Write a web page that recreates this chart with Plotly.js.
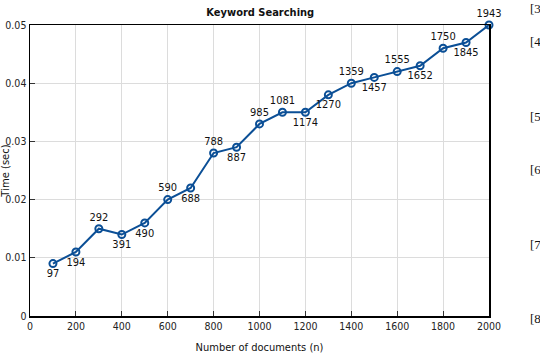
<!DOCTYPE html>
<html><head><meta charset="utf-8">
<script src="https://cdn.plot.ly/plotly-3.0.1.min.js"></script>
<style>html,body{margin:0;padding:0;background:#fff}#chart{width:540px;height:358px}</style>
</head><body><div id="chart"></div>
<script>
const docs = [100,200,300,400,500,600,700,800,900,1000,1100,1200,1300,1400,1500,1600,1700,1800,1900,2000];
const times = [0.009,0.011,0.015,0.014,0.016,0.020,0.022,0.028,0.029,0.033,0.035,0.035,0.038,0.040,0.041,0.042,0.043,0.046,0.047,0.050];
const pointLabels = ['97','194','292','391','490','590','688','788','887','985','1081','1174','1270','1359','1457','1555','1652','1750','1845','1943'];
const labelPos = ['bottom center','bottom center','top center','bottom center','bottom center','top center','bottom center','top center','bottom center','top center','top center','bottom center','bottom center','top center','bottom center','top center','bottom center','top center','bottom center','top center'];
const sideRefs = ['[3','[4','[5','[6','[7','[8'];
const sideY = [1.058,0.942,0.687,0.502,0.244,-0.007];

const font = 'DejaVu Sans Condensed, Liberation Sans Narrow, Arial Narrow, sans-serif';
const trace = {
  x: docs, y: times, text: pointLabels, mode: 'lines+markers+text',
  textposition: labelPos, cliponaxis: false,
  textfont: {family: font, size: 11, color: '#111'},
  line: {color: '#0b4f96', width: 2},
  marker: {symbol: 'circle-open', size: 7, color: '#0b4f96', line: {width: 2, color: '#0b4f96'}},
  hoverinfo: 'none'
};
const layout = {
  width: 540, height: 358,
  margin: {l: 30, r: 51, t: 25, b: 42},
  paper_bgcolor: '#fff', plot_bgcolor: '#fff',
  showlegend: false,
  title: {text: '<b>Keyword Searching</b>', x: 0.482, xanchor: 'center', y: 0.965, yanchor: 'middle',
          font: {family: font, size: 11, color: '#111'}},
  xaxis: {range: [0, 2000], dtick: 200, tick0: 0, showgrid: true, gridcolor: '#dcdcdc', gridwidth: 1,
          zeroline: false, showline: true, linecolor: '#000', linewidth: 1.5, mirror: true,
          ticks: 'inside', ticklen: 5, tickcolor: '#333',
          tickfont: {family: font, size: 10.5, color: '#222'},
          title: {text: 'Number of documents (n)', standoff: 12, font: {family: font, size: 11, color: '#111'}}},
  yaxis: {range: [0, 0.05], dtick: 0.01, tick0: 0, showgrid: true, gridcolor: '#dcdcdc', gridwidth: 1,
          zeroline: false, showline: true, linecolor: '#000', linewidth: 1.5, mirror: true,
          ticks: 'inside', ticklen: 5, tickcolor: '#333', tickformat: '.2~f',
          tickfont: {family: font, size: 10.5, color: '#222'},
          title: {text: 'Time (sec)', standoff: 4, font: {family: 'DejaVu Sans, sans-serif', size: 10, color: '#111'}}},
  annotations: sideRefs.map((t, i) => ({
    text: t, xref: 'paper', yref: 'paper', x: 1.085, y: sideY[i], xanchor: 'left', yanchor: 'middle',
    showarrow: false, font: {family: 'Liberation Serif, serif', size: 13, color: '#111'}
  }))
};
Plotly.newPlot('chart', [trace], layout, {displayModeBar: false, staticPlot: true});
</script></body></html>
